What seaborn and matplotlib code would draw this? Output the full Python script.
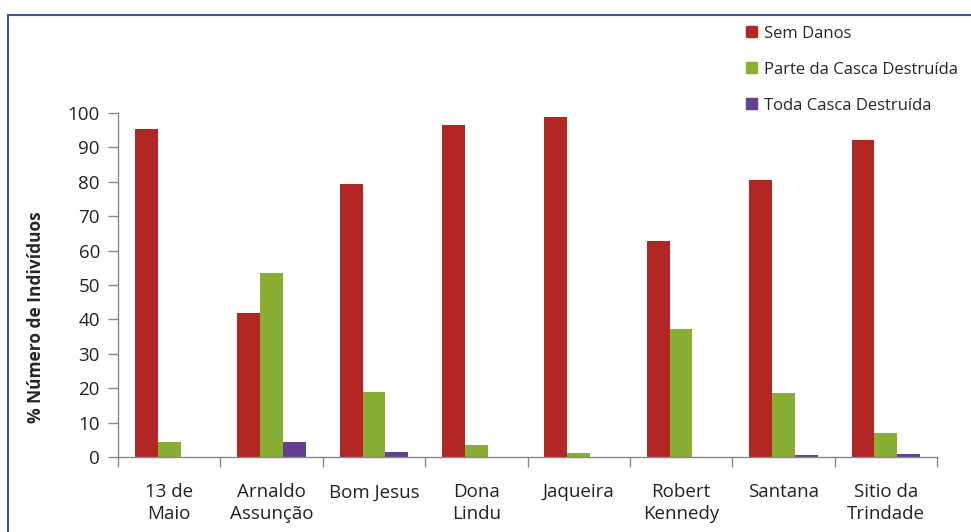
import matplotlib
matplotlib.use('Agg')
import matplotlib.pyplot as plt
import matplotlib.patches as mpatches
import numpy as np
import pandas as pd
import seaborn as sns

bairros = ['13 de\nMaio', 'Arnaldo\nAssunção', 'Bom Jesus', 'Dona\nLindu',
           'Jaqueira', 'Robert\nKennedy', 'Santana', 'Sitio da\nTrindade']
sem_danos = [95.3, 41.9, 79.3, 96.5, 98.7, 62.8, 80.5, 92.1]
parte_casca = [4.3, 53.5, 18.8, 3.4, 1.3, 37.1, 18.5, 7.0]
toda_casca = [0.0, 4.3, 1.5, 0.0, 0.0, 0.0, 0.7, 0.8]

series = ['Sem Danos', 'Parte da Casca Destruída', 'Toda Casca Destruída']
cores = ['#B22623', '#88AE33', '#653F92']

df = pd.DataFrame({
    'bairro': bairros * 3,
    'categoria': [series[0]] * 8 + [series[1]] * 8 + [series[2]] * 8,
    'valor': sem_danos + parte_casca + toda_casca,
})

sns.set_style('white')
plt.rcParams['font.family'] = ['Open Sans', 'DejaVu Sans']

fig = plt.figure(figsize=(9.71, 5.32), dpi=100)
ax = fig.add_axes([118 / 971, 1 - 457 / 532, (937 - 118) / 971, (457 - 113) / 532])

sns.barplot(data=df, x='bairro', y='valor', hue='categoria', palette=cores,
            width=0.67, saturation=1, linewidth=0, ax=ax, legend=False)

ax.set_ylim(0, 100)
ax.set_xlim(-0.5, 7.5)
ax.set_yticks(np.arange(0, 101, 10))
ax.tick_params(axis='y', labelsize=13.5, length=7, width=1, color='#888888',
               direction='out', pad=6, left=True, labelcolor='#222222')
ax.tick_params(axis='x', which='major', length=0, labelsize=13.5, pad=19,
               labelcolor='#222222')
for lbl in ax.get_xticklabels():
    lbl.set_linespacing(1.25)
ax.set_xticks(np.arange(-0.5, 8, 1), minor=True)
ax.tick_params(axis='x', which='minor', length=7, width=1, color='#888888',
               direction='out', bottom=True)
ax.set_xlabel('')
ax.set_ylabel('% Número de Indivíduos', fontsize=12.5, fontweight='bold')
ax.yaxis.set_label_coords(-0.0895, 0.405)

for side in ['top', 'right']:
    ax.spines[side].set_visible(False)
for side in ['left', 'bottom']:
    ax.spines[side].set_color('#888888')
    ax.spines[side].set_linewidth(1)

handles = [mpatches.Patch(color=c, label=s) for c, s in zip(cores, series)]
fig.legend(handles=handles, loc='upper left', bbox_to_anchor=(739 / 971, 1 - 19 / 532),
           frameon=False, fontsize=12, handlelength=0.65, handleheight=0.65,
           handletextpad=0.45, labelspacing=1.2, borderaxespad=0)

frame = mpatches.Rectangle((8 / 971, -0.1), 1.2, 1 - 15 / 532 + 0.1,
                           transform=fig.transFigure, fill=False,
                           edgecolor='#3A5A96', linewidth=1.5)
fig.patches.append(frame)

fig.savefig('out.png', dpi=100)
